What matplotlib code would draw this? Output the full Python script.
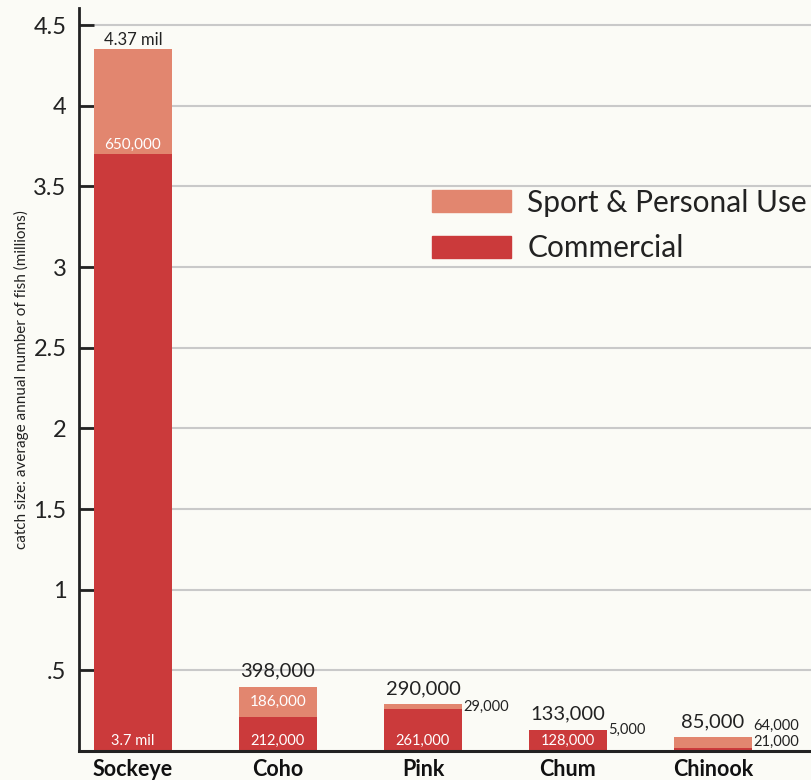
import numpy as np
import matplotlib.pyplot as plt
from matplotlib.patches import Patch

species = ['Sockeye', 'Coho', 'Pink', 'Chum', 'Chinook']
commercial = [3.7, 0.212, 0.261, 0.128, 0.021]
sport = [0.65, 0.186, 0.029, 0.005, 0.064]
total_labels = ['4.37 mil', '398,000', '290,000', '133,000', '85,000']
commercial_labels = ['3.7 mil', '212,000', '261,000', '128,000', '21,000']
sport_labels = ['650,000', '186,000', '29,000', '5,000', '64,000']
yticks = [0.5, 1, 1.5, 2, 2.5, 3, 3.5, 4, 4.5]
ytick_labels = ['.5', '1', '1.5', '2', '2.5', '3', '3.5', '4', '4.5']

c_com = '#cb3a3b'
c_sport = '#e2866f'
bg = '#fbfbf6'
dark = '#222222'

plt.rcParams['font.family'] = ['Lato', 'DejaVu Sans']

fig = plt.figure(figsize=(8.12, 7.8), dpi=100, facecolor=bg)
ax = fig.add_axes([79 / 812, 1 - 751 / 780, 1 - 79 / 812, (751 - 8) / 780])
ax.set_facecolor(bg)

x = np.arange(len(species))
w = 0.538
ax.bar(x, commercial, w, color=c_com, zorder=3)
ax.bar(x, sport, w, bottom=commercial, color=c_sport, zorder=3)

ax.set_xlim(-0.372, 4.683)
ax.set_ylim(0, 4.606)
ax.set_yticks(yticks)
ax.set_yticklabels(ytick_labels, fontsize=17, color=dark)
ax.tick_params(axis='y', direction='in', length=11, width=2, color=dark, pad=9)
ax.set_xticks(x)
ax.set_xticklabels(species, fontsize=15.5, fontweight='bold', color='#111111')
ax.tick_params(axis='x', length=0, pad=6)
ax.grid(axis='y', color='#c9c9c9', lw=1.5, zorder=0)

for s in ['top', 'right']:
    ax.spines[s].set_visible(False)
ax.spines['left'].set_color(dark)
ax.spines['left'].set_linewidth(2)
ax.spines['bottom'].set_color(dark)
ax.spines['bottom'].set_linewidth(2.2)
ax.spines['bottom'].set_zorder(4)

ax.set_ylabel('catch size: average annual number of fish (millions)', fontsize=11,
              color=dark, labelpad=3)

tops = np.array(commercial) + np.array(sport)
for i in range(len(species)):
    if i == 0:
        ax.annotate(total_labels[i], (x[i], tops[i]), xytext=(0, 1), textcoords='offset points',
                    ha='center', va='bottom', fontsize=12, color=dark)
    else:
        ax.annotate(total_labels[i], (x[i], tops[i]), xytext=(0, 5), textcoords='offset points',
                    ha='center', va='bottom', fontsize=14.5, color=dark)

# labels at the foot of the bars
for i in range(4):
    ax.annotate(commercial_labels[i], (x[i], 0), xytext=(0, 7), textcoords='offset points',
                ha='center', va='center', fontsize=10.5, color='white', zorder=5)

# sport labels inside the tall bars
ax.annotate(sport_labels[0], (x[0], commercial[0]), xytext=(0, 7), textcoords='offset points',
            ha='center', va='center', fontsize=11, color='white')
ax.annotate(sport_labels[1], (x[1], commercial[1] + sport[1] / 2), ha='center', va='center',
            fontsize=11, color='white')

# labels beside the thin bars
side = [(2, sport_labels[2], commercial[2] + sport[2] / 2, 0),
        (3, sport_labels[3], commercial[3] + sport[3] / 2, 0),
        (4, sport_labels[4], tops[4], 8),
        (4, commercial_labels[4], commercial[4] / 2, 5)]
for i, txt, yv, dy in side:
    ax.annotate(txt, (x[i] + w / 2, yv), xytext=(1, dy), textcoords='offset points',
                ha='left', va='center', fontsize=10.5, color=dark)

handles = [Patch(color=c_sport), Patch(color=c_com)]
ax.legend(handles, ['Sport & Personal Use', 'Commercial'], loc='upper left',
          bbox_to_anchor=(0.4816, 0.757), frameon=False, fontsize=21.5,
          handlelength=2.64, handleheight=0.74, labelspacing=0.6, handletextpad=0.55,
          borderaxespad=0, borderpad=0, labelcolor=dark)

fig.savefig('out.png', dpi=100, facecolor=bg)
